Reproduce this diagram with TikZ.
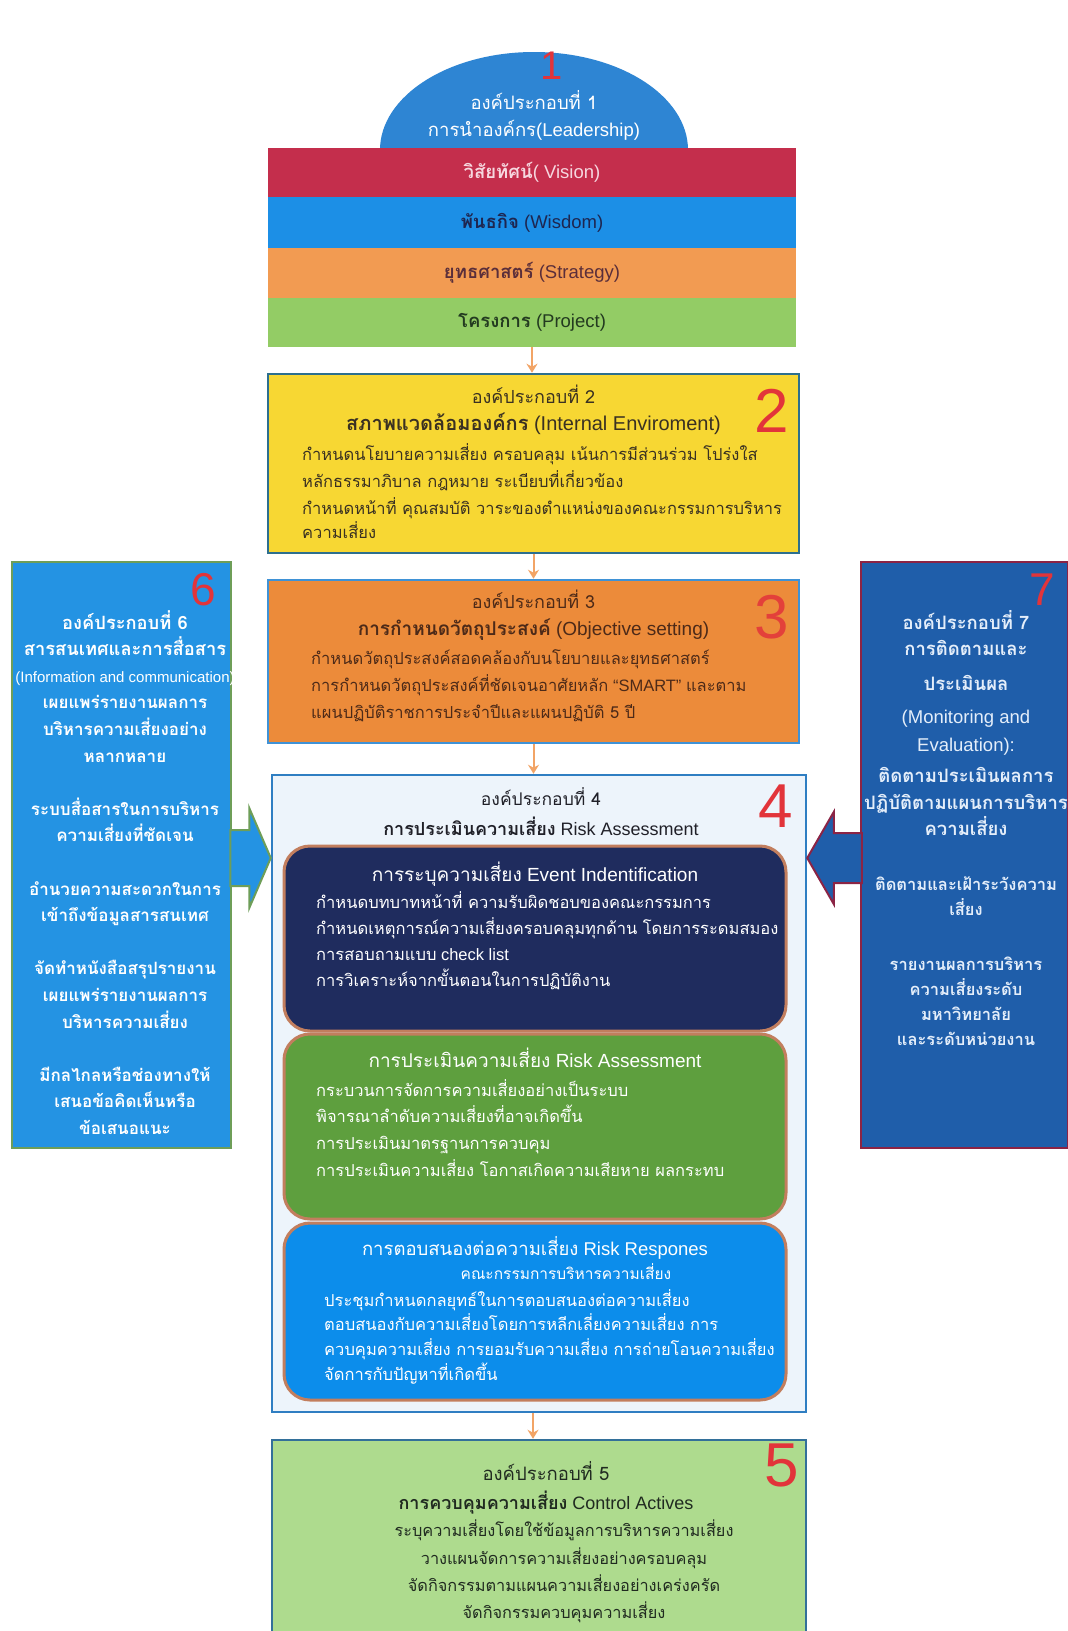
\documentclass[tikz,border=0pt]{standalone}
\usepackage{fontspec}
\setmainfont{Liberation Sans}
\newfontfamily\thf[Script=Thai]{Loma}
\usetikzlibrary{calc,arrows.meta}
\newcommand\T[1]{{\thf #1}}
\newcommand\TB[1]{{\thf\bfseries #1}}
\newcommand\fs[2]{\fontsize{#1}{#2}\selectfont}
\definecolor{domeblue}{HTML}{2E85D3}
\definecolor{barred}{HTML}{C42E4C}
\definecolor{barblue}{HTML}{1C8FE6}
\definecolor{barorange}{HTML}{F29B52}
\definecolor{bargreen}{HTML}{93CC65}
\definecolor{btwofill}{HTML}{F7D733}
\definecolor{btwodraw}{HTML}{2D6F8E}
\definecolor{bthreefill}{HTML}{EC8B3A}
\definecolor{bthreedraw}{HTML}{3F92D6}
\definecolor{bfourfill}{HTML}{EDF4FB}
\definecolor{bfourdraw}{HTML}{2F7EC2}
\definecolor{navyfill}{HTML}{1F2C5E}
\definecolor{innerdraw}{HTML}{C27E5E}
\definecolor{igreen}{HTML}{5E9F3E}
\definecolor{iblue}{HTML}{0C8DEB}
\definecolor{bfivefill}{HTML}{AEDB8E}
\definecolor{bfivedraw}{HTML}{33709A}
\definecolor{bsixfill}{HTML}{2493E3}
\definecolor{bsixdraw}{HTML}{6E9E58}
\definecolor{bsevenfill}{HTML}{1F5EAA}
\definecolor{bsevendraw}{HTML}{8B2445}
\definecolor{numred}{HTML}{E2343A}
\definecolor{arrowor}{HTML}{F2A466}
\definecolor{txtwo}{HTML}{3A3122}
\definecolor{txthree}{HTML}{4D2A18}
\definecolor{txfour}{HTML}{202028}
\definecolor{txfive}{HTML}{202A20}
\definecolor{sevtext}{HTML}{E4EEFA}
\begin{document}
\begin{tikzpicture}[x=1pt,y=-1pt,
  bar/.style={rectangle,inner sep=0pt,minimum width=528pt,draw=none},
  bartxt/.style={inner sep=0pt,font=\fs{18.5}{22}},
  panel/.style={rectangle,inner sep=0pt,line width=2.5pt},
  inner/.style={rectangle,rounded corners=26pt,inner sep=0pt,line width=3pt,draw=innerdraw,minimum width=502pt},
  ttl/.style={inner sep=0pt,align=center,font=\fs{19}{27}},
  bodytxt/.style={inner sep=0pt,align=left,font=\fs{16.5}{27}},
  side/.style={inner sep=0pt,align=center,text=white},
  num/.style={inner sep=0pt,text=numred,font=\fs{62}{62}},
  smallnum/.style={inner sep=0pt,text=numred,font=\fs{46}{46}},
  flow/.style={draw=arrowor,line width=2pt,-{Stealth[length=9pt,width=11pt]}},
  fat/.style={line width=2pt,line join=miter}
]
\useasboundingbox (0,0) rectangle (1068,1631);
\fill[white] (0,0) rectangle (1068,1631);

% dome
\begin{scope}
\clip (0,0) rectangle (1068,150);
\fill[domeblue] (534,150) ellipse [x radius=154, y radius=98];
\end{scope}
\node[ttl,text=white,anchor=north,font=\fs{18.5}{27}] (domet) at (534,90.5) {\T{องค์ประกอบที่ 1}\\\T{การนำองค์กร}(Leadership)};
\node[inner sep=0pt,text=numred,font=\fs{40}{40}] (n1) at (552,66) {1};

% bars
\node[bar,fill=barred,minimum height=49pt] (vis) at (532,172.5) {};
\node[bar,fill=barblue,minimum height=51pt] (mis) at (532,222.5) {};
\node[bar,fill=barorange,minimum height=50pt] (str) at (532,273) {};
\node[bar,fill=bargreen,minimum height=49pt] (prj) at (532,322.5) {};
\node[bartxt,text={rgb,255:red,246;green,215;blue,223}] (vist) at (vis) {\TB{วิสัยทัศน์}( Vision)};
\node[bartxt,text={rgb,255:red,30;green,38;blue,80}] (mist) at (mis) {\TB{พันธกิจ} (Wisdom)};
\node[bartxt,text={rgb,255:red,90;green,46;blue,58}] (strt) at (str) {\TB{ยุทธศาสตร์} (Strategy)};
\node[bartxt,text={rgb,255:red,35;green,58;blue,32}] (prjt) at (prj) {\TB{โครงการ} (Project)};

% box 2
\node[panel,fill=btwofill,draw=btwodraw,minimum width=531pt,minimum height=179pt] (b2) at (533.5,463.5) {};
\node[ttl,text=txtwo,anchor=north,font=\fs{20}{27}] (b2t) at (533.5,385) {{\fs{18}{27}\T{องค์ประกอบที่ 2}}\\\TB{สภาพแวดล้อมองค์กร} (Internal Enviroment)};
\node[bodytxt,text=txtwo,anchor=north west] (b2b) at (302,443) {\T{กำหนดนโยบายความเสี่ยง ครอบคลุม เน้นการมีส่วนร่วม โปร่งใส}\\\T{หลักธรรมาภิบาล กฎหมาย ระเบียบที่เกี่ยวข้อง}\\\T{กำหนดหน้าที่ คุณสมบัติ วาระของตำแหน่งของคณะกรรมการบริหาร}\\[-3pt]\T{ความเสี่ยง}};
\node[num] (n2) at (772,411) {2};

% box 3
\node[panel,fill=bthreefill,draw=bthreedraw,minimum width=531pt,minimum height=163pt] (b3) at (533.5,661.5) {};
\node[ttl,text=txthree,anchor=north] (b3t) at (533.5,590) {{\fs{18}{27}\T{องค์ประกอบที่ 3}}\\\TB{การกำหนดวัตถุประสงค์} (Objective setting)};
\node[bodytxt,text=txthree,anchor=north west] (b3b) at (311,649) {\T{กำหนดวัตถุประสงค์สอดคล้องกับนโยบายและยุทธศาสตร์}\\\T{การกำหนดวัตถุประสงค์ที่ชัดเจนอาศัยหลัก} “SMART” \T{และตาม}\\\T{แผนปฏิบัติราชการประจำปีและแผนปฏิบัติ 5 ปี}};
\node[num,opacity=0.85] (n3) at (772,617) {3};

% box 4
\node[panel,fill=bfourfill,draw=bfourdraw,minimum width=534pt,minimum height=637pt] (b4) at (539,1093.5) {};
\node[ttl,text=txfour,anchor=north,font=\fs{18}{30}] (b4t) at (541,787) {{\fs{17.5}{30}\T{องค์ประกอบที่ 4}}\\\TB{การประเมินความเสี่ยง} Risk Assessment};
\node[num] (n4) at (776,806) {4};

\node[inner,fill=navyfill,minimum height=185pt] (ev) at (535,938.5) {};
\node[ttl,text=white,anchor=north] (evt) at (535,862) {\T{การระบุความเสี่ยง} Event Indentification};
\node[bodytxt,text=white,anchor=north west,font=\fs{16.5}{26}] (evb) at (316,891) {\T{กำหนดบทบาทหน้าที่ ความรับผิดชอบของคณะกรรมการ}\\\T{กำหนดเหตุการณ์ความเสี่ยงครอบคลุมทุกด้าน โดยการระดมสมอง}\\\T{การสอบถามแบบ} check list\\\T{การวิเคราะห์จากขั้นตอนในการปฏิบัติงาน}};

\node[inner,fill=igreen,minimum height=185pt] (ra) at (535,1126.5) {};
\node[ttl,text=white,anchor=north] (rat) at (535,1048) {\T{การประเมินความเสี่ยง} Risk Assessment};
\node[bodytxt,text=white,anchor=north west,font=\fs{16.5}{26.7}] (rab) at (316,1079) {\T{กระบวนการจัดการความเสี่ยงอย่างเป็นระบบ}\\\T{พิจารณาลำดับความเสี่ยงที่อาจเกิดขึ้น}\\\T{การประเมินมาตรฐานการควบคุม}\\\T{การประเมินความเสี่ยง โอกาสเกิดความเสียหาย ผลกระทบ}};

\node[inner,fill=iblue,minimum height=177pt] (rr) at (535,1311.5) {};
\node[ttl,text=white,anchor=north,font=\fs{18.5}{27}] (rrt) at (535,1236) {\T{การตอบสนองต่อความเสี่ยง} Risk Respones};
\node[inner sep=0pt,text=white,anchor=north,font=\fs{15.5}{18}] (rrs) at (566,1263) {\T{คณะกรรมการบริหารความเสี่ยง}};
\node[bodytxt,text=white,anchor=north west,font=\fs{16.5}{24.7}] (rrb) at (324,1289) {\T{ประชุมกำหนดกลยุทธ์ในการตอบสนองต่อความเสี่ยง}\\\T{ตอบสนองกับความเสี่ยงโดยการหลีกเลี่ยงความเสี่ยง การ}\\\T{ควบคุมความเสี่ยง การยอมรับความเสี่ยง การถ่ายโอนความเสี่ยง}\\\T{จัดการกับปัญหาที่เกิดขึ้น}};

% box 5
\node[panel,fill=bfivefill,draw=bfivedraw,minimum width=534pt,minimum height=200pt] (b5) at (539,1540) {};
\node[ttl,text=txfive,anchor=north,font=\fs{18}{29}] (b5t) at (546,1461) {{\fs{18.5}{29}\T{องค์ประกอบที่ 5}}\\\TB{การควบคุมความเสี่ยง} Control Actives};
\node[inner sep=0pt,align=center,text=txfive,anchor=north,font=\fs{16.3}{27.3}] (b5b) at (564,1520) {\T{ระบุความเสี่ยงโดยใช้ข้อมูลการบริหารความเสี่ยง}\\\T{วางแผนจัดการความเสี่ยงอย่างครอบคลุม}\\\T{จัดกิจกรรมตามแผนความเสี่ยงอย่างเคร่งครัด}\\\T{จัดกิจกรรมควบคุมความเสี่ยง}};
\node[num] (n5) at (782,1465) {5};

% box 6
\node[panel,fill=bsixfill,draw=bsixdraw,minimum width=219pt,minimum height=586pt] (b6) at (121.5,855) {};
\node[side,anchor=north,font=\fs{17}{26.6}] (b6t) at (125,610) {{\fs{18.3}{26.6}\TB{องค์ประกอบที่ 6}}\\{\fs{18.3}{26.6}\TB{สารสนเทศและการสื่อสาร}}\\{\fs{15}{26.6}(Information and communication)}\\\TB{เผยแพร่รายงานผลการ}\\\TB{บริหารความเสี่ยงอย่าง}\\\TB{หลากหลาย}\\[26.6pt]\TB{ระบบสื่อสารในการบริหาร}\\\TB{ความเสี่ยงที่ชัดเจน}\\[26.6pt]\TB{อำนวยความสะดวกในการ}\\\TB{เข้าถึงข้อมูลสารสนเทศ}\\[26.6pt]\TB{จัดทำหนังสือสรุปรายงาน}\\\TB{เผยแพร่รายงานผลการ}\\\TB{บริหารความเสี่ยง}\\[26.6pt]\TB{มีกลไกลหรือช่องทางให้}\\\TB{เสนอข้อคิดเห็นหรือ}\\\TB{ข้อเสนอแนะ}};
\node[smallnum] (n6) at (203,590) {6};

% box 7
\node[panel,fill=bsevenfill,draw=bsevendraw,minimum width=207pt,minimum height=586pt] (b7) at (964.5,855) {};
\node[side,text=sevtext,anchor=north,font=\fs{18.5}{25}] (b7t) at (966,610) {\TB{องค์ประกอบที่ 7}\\[1pt]\TB{การติดตามและ}\\[10pt]\TB{ประเมินผล}\\[8pt](Monitoring and\\[3pt]Evaluation):\\[6pt]\TB{ติดตามประเมินผลการ}\\[2pt]\TB{ปฏิบัติตามแผนการบริหาร}\\[1pt]\TB{ความเสี่ยง}\\[30pt]{\fs{16.5}{25}\TB{ติดตามและเฝ้าระวังความ}}\\{\fs{16.5}{25}\TB{เสี่ยง}}\\[30pt]{\fs{16.5}{25}\TB{รายงานผลการบริหาร}}\\{\fs{16.5}{25}\TB{ความเสี่ยงระดับ}}\\{\fs{16.5}{25}\TB{มหาวิทยาลัย}}\\{\fs{16.5}{25}\TB{และระดับหน่วยงาน}}};
\node[smallnum] (n7) at (1042,590) {7};

% flow arrows
\draw[flow] (prj.south) -- (prj.south |- b2.north);
\draw[flow] (b2.south) -- (b2.south |- b3.north);
\draw[flow] (b3.south) -- (b3.south |- b4.north);
\coordinate (b4s) at ($(b4.south)+(-6,0)$);
\draw[flow] (b4s) -- (b4s |- b5.north);

% fat arrows
\coordinate (la) at ($(b6.east)+(0,3)$);
\draw[fat,fill=bsixfill,draw=bsixdraw]
  ($(la)+(-2,-28)$) -- ($(la)+(17,-28)$) -- ($(la)+(17,-50)$) -- (b4.west |- la)
  -- ($(la)+(17,50)$) -- ($(la)+(17,28)$) -- ($(la)+(-2,28)$) -- cycle;
\coordinate (ra) at ($(b7.west)+(0,3)$);
\draw[fat,fill=bsevenfill,draw=bsevendraw]
  ($(ra)+(2,-25)$) -- ($(ra)+(-26,-25)$) -- ($(ra)+(-26,-46)$) -- (b4.east |- ra)
  -- ($(ra)+(-26,46)$) -- ($(ra)+(-26,25)$) -- ($(ra)+(2,25)$) -- cycle;
\end{tikzpicture}
\end{document}
